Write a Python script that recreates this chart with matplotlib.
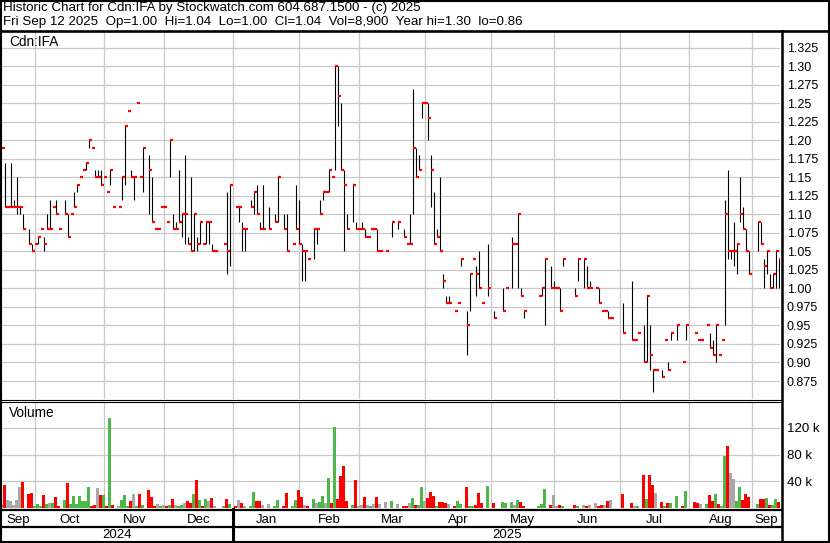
import numpy as np
import matplotlib
matplotlib.use("Agg")
import matplotlib.pyplot as plt
from matplotlib.patches import Rectangle
from matplotlib.transforms import blended_transform_factory

plt.rcParams['font.family'] = ['Liberation Sans', 'DejaVu Sans']

# trading day index (0 = first day shown, 259 = Fri Sep 12 2025)
days = [0, 1, 2, 3, 4, 5, 6, 7, 9, 10,
        11, 12, 13, 14, 15, 16, 17, 18, 19, 21,
        22, 23, 24, 25, 26, 27, 28, 29, 30, 31,
        32, 33, 34, 35, 36, 37, 39, 40, 41, 42,
        43, 44, 45, 46, 47, 49, 50, 51, 52, 53,
        54, 55, 56, 57, 58, 59, 60, 61, 62, 63,
        64, 65, 66, 67, 68, 69, 70, 71, 74, 75,
        76, 78, 79, 80, 81, 83, 84, 85, 86, 87,
        89, 91, 92, 94, 95, 97, 98, 99, 100, 101,
        102, 104, 105, 106, 107, 108, 109, 110, 111, 112,
        113, 114, 115, 117, 118, 119, 120, 121, 122, 123,
        124, 125, 126, 128, 130, 132, 134, 135, 136, 137,
        138, 139, 140, 141, 142, 143, 144, 145, 146, 147,
        148, 149, 151, 152, 153, 155, 156, 157, 158, 159,
        160, 162, 164, 167, 168, 170, 171, 172, 173, 174,
        179, 180, 181, 183, 184, 185, 186, 187, 191, 192,
        194, 195, 196, 198, 199, 200, 201, 202, 203, 207,
        210, 211, 212, 214, 215, 216, 217, 218, 220, 221,
        222, 223, 225, 227, 228, 231, 232, 233, 235, 236,
        237, 238, 239, 240, 241, 242, 243, 244, 245, 246,
        247, 248, 249, 252, 253, 254, 255, 256, 257, 258,
        259]

highs = [1.19, 1.17, 1.11, 1.17, 1.12, 1.15, 1.11, 1.10, 1.08, 1.06,
         1.06, 1.07, 1.08, 1.07, 1.10, 1.12, 1.11, 1.12, 1.08, 1.12,
         1.10, 1.10, 1.13, 1.14, 1.15, 1.16, 1.17, 1.20, 1.19, 1.16,
         1.16, 1.16, 1.15, 1.13, 1.16, 1.11, 1.11, 1.15, 1.22, 1.24,
         1.16, 1.15, 1.25, 1.15, 1.19, 1.18, 1.15, 1.08, 1.08, 1.11,
         1.11, 1.09, 1.20, 1.10, 1.09, 1.16, 1.10, 1.18, 1.07, 1.15,
         1.10, 1.07, 1.09, 1.06, 1.09, 1.09, 1.06, 1.05, 1.06, 1.13,
         1.14, 1.11, 1.11, 1.09, 1.08, 1.12, 1.13, 1.14, 1.09, 1.14,
         1.11, 1.10, 1.15, 1.10, 1.10, 1.06, 1.14, 1.12, 1.06, 1.05,
         1.04, 1.08, 1.08, 1.12, 1.13, 1.13, 1.16, 1.15, 1.30, 1.30,
         1.25, 1.16, 1.10, 1.14, 1.09, 1.08, 1.09, 1.08, 1.07, 1.08,
         1.08, 1.08, 1.05, 1.05, 1.09, 1.09, 1.08, 1.06, 1.10, 1.27,
         1.19, 1.18, 1.25, 1.25, 1.25, 1.18, 1.13, 1.08, 1.15, 1.02,
         0.99, 0.99, 0.97, 0.98, 1.04, 0.97, 1.02, 1.04, 1.03, 1.05,
         0.98, 1.06, 0.97, 1.00, 1.00, 1.07, 1.06, 1.10, 1.00, 0.97,
         0.99, 1.00, 1.04, 1.03, 1.01, 1.00, 1.00, 1.04, 1.00, 1.04,
         1.04, 1.03, 1.01, 1.00, 1.00, 0.97, 0.97, 0.97, 0.96, 0.98,
         1.01, 0.93, 0.94, 0.95, 0.99, 0.95, 0.89, 0.89, 0.89, 0.93,
         0.90, 0.94, 0.95, 0.90, 0.95, 0.94, 0.93, 0.93, 0.95, 0.94,
         0.93, 0.95, 0.91, 0.93, 1.12, 1.16, 1.05, 1.09, 1.06, 1.15,
         1.11, 1.08, 1.05, 1.09, 1.09, 1.04, 1.05, 1.02, 1.02, 1.05,
         1.04]

lows = [1.19, 1.11, 1.11, 1.11, 1.11, 1.10, 1.10, 1.08, 1.06, 1.05,
        1.06, 1.06, 1.08, 1.05, 1.08, 1.08, 1.11, 1.10, 1.08, 1.10,
        1.07, 1.10, 1.11, 1.13, 1.15, 1.16, 1.16, 1.19, 1.19, 1.15,
        1.15, 1.14, 1.15, 1.13, 1.14, 1.11, 1.11, 1.12, 1.14, 1.24,
        1.15, 1.12, 1.25, 1.15, 1.13, 1.10, 1.09, 1.08, 1.08, 1.11,
        1.11, 1.09, 1.15, 1.08, 1.08, 1.09, 1.07, 1.06, 1.06, 1.05,
        1.05, 1.05, 1.06, 1.06, 1.06, 1.06, 1.05, 1.05, 1.06, 1.02,
        1.03, 1.11, 1.09, 1.05, 1.05, 1.11, 1.10, 1.10, 1.08, 1.08,
        1.08, 1.09, 1.09, 1.08, 1.05, 1.06, 1.08, 1.06, 1.01, 1.01,
        1.04, 1.04, 1.06, 1.10, 1.12, 1.13, 1.13, 1.15, 1.16, 1.22,
        1.16, 1.05, 1.08, 1.09, 1.08, 1.08, 1.08, 1.07, 1.07, 1.08,
        1.08, 1.05, 1.05, 1.05, 1.07, 1.08, 1.07, 1.06, 1.06, 1.10,
        1.15, 1.16, 1.23, 1.25, 1.20, 1.11, 1.06, 1.07, 1.05, 1.00,
        0.98, 0.98, 0.97, 0.98, 1.03, 0.91, 0.97, 1.04, 0.99, 1.00,
        0.98, 0.99, 0.96, 0.97, 1.00, 1.00, 1.06, 1.00, 0.99, 0.96,
        0.99, 0.99, 0.95, 1.00, 1.00, 1.00, 0.97, 1.03, 0.99, 1.01,
        1.00, 1.00, 1.00, 1.00, 0.98, 0.97, 0.97, 0.96, 0.96, 0.94,
        0.93, 0.93, 0.94, 0.90, 0.90, 0.89, 0.86, 0.89, 0.88, 0.93,
        0.89, 0.93, 0.93, 0.90, 0.93, 0.94, 0.93, 0.93, 0.95, 0.92,
        0.91, 0.90, 0.91, 0.93, 0.95, 1.04, 1.04, 1.03, 1.02, 1.09,
        1.08, 1.05, 1.02, 1.05, 1.06, 1.00, 1.02, 1.00, 1.00, 1.00,
        1.00]

closes = [1.19, 1.11, 1.11, 1.11, 1.11, 1.11, 1.11, 1.08, 1.06, 1.05,
          1.06, 1.07, 1.08, 1.06, 1.08, 1.08, 1.11, 1.10, 1.08, 1.10,
          1.07, 1.10, 1.11, 1.14, 1.15, 1.16, 1.17, 1.20, 1.19, 1.15,
          1.15, 1.14, 1.15, 1.13, 1.16, 1.11, 1.11, 1.15, 1.22, 1.24,
          1.15, 1.15, 1.25, 1.15, 1.19, 1.16, 1.09, 1.08, 1.08, 1.11,
          1.11, 1.09, 1.20, 1.08, 1.08, 1.09, 1.10, 1.10, 1.06, 1.05,
          1.10, 1.06, 1.09, 1.06, 1.09, 1.09, 1.05, 1.05, 1.06, 1.05,
          1.14, 1.11, 1.11, 1.08, 1.08, 1.11, 1.13, 1.10, 1.08, 1.08,
          1.08, 1.09, 1.15, 1.08, 1.05, 1.06, 1.08, 1.06, 1.05, 1.05,
          1.04, 1.08, 1.08, 1.10, 1.13, 1.13, 1.16, 1.15, 1.30, 1.26,
          1.16, 1.14, 1.08, 1.14, 1.08, 1.08, 1.08, 1.07, 1.07, 1.08,
          1.08, 1.05, 1.05, 1.05, 1.09, 1.09, 1.07, 1.06, 1.06, 1.19,
          1.15, 1.16, 1.25, 1.25, 1.23, 1.16, 1.06, 1.07, 1.05, 1.01,
          0.98, 0.98, 0.97, 0.98, 1.04, 0.95, 1.02, 1.04, 1.02, 1.00,
          0.98, 1.00, 0.96, 0.97, 1.00, 1.06, 1.06, 1.10, 0.99, 0.97,
          0.99, 1.00, 1.04, 1.00, 1.00, 1.00, 0.97, 1.04, 0.99, 1.04,
          1.04, 1.00, 1.00, 1.00, 0.98, 0.97, 0.97, 0.96, 0.96, 0.94,
          0.93, 0.93, 0.94, 0.90, 0.99, 0.91, 0.89, 0.89, 0.88, 0.93,
          0.89, 0.94, 0.95, 0.90, 0.95, 0.94, 0.93, 0.93, 0.95, 0.92,
          0.91, 0.95, 0.91, 0.93, 1.10, 1.05, 1.05, 1.05, 1.06, 1.10,
          1.08, 1.05, 1.02, 1.09, 1.06, 1.03, 1.05, 1.00, 1.02, 1.05,
          1.04]

volumes = [6400, 34600, 11400, 9900, 4900, 11400, 32000, 39500, 21000, 22700,
           3000, 6400, 3000, 19800, 6400, 7900, 7900, 17000, 3000, 12300,
           37500, 6400, 18300, 6400, 18300, 10900, 10900, 32000, 2500, 4900,
           30000, 19800, 19800, 2500, 135000, 4000, 3000, 12300, 19800, 3000,
           9900, 21200, 2500, 21200, 4000, 27200, 15800, 2500, 6400, 2500,
           4900, 2500, 4000, 13800, 4000, 2500, 4900, 7900, 10900, 7900,
           21200, 42000, 12300, 2500, 13800, 10900, 15300, 2500, 3000, 13800,
           6400, 2500, 12300, 7900, 2500, 2500, 24200, 10900, 10900, 4000,
           6400, 3000, 12300, 3000, 22700, 3000, 12300, 27200, 16800, 4900,
           2500, 13800, 7900, 9400, 18300, 7900, 45000, 7900, 122000, 13800,
           48000, 62700, 10900, 4900, 42000, 2500, 4900, 16800, 4900, 2500,
           6400, 16800, 6400, 9400, 10900, 6400, 3000, 2500, 7900, 15300,
           4900, 4900, 31600, 9900, 15300, 24200, 18300, 3500, 9400, 9400,
           7900, 6400, 2500, 10900, 6400, 31600, 2500, 3500, 4900, 22700,
           7900, 33000, 7900, 9400, 7900, 9400, 4900, 12300, 9400, 3500,
           2500, 6400, 28600, 4900, 19800, 2500, 4900, 2500, 4900, 2500,
           4000, 2500, 4900, 7900, 2500, 4000, 4000, 10900, 12300, 21200,
           7900, 2500, 3500, 49400, 13800, 49400, 34600, 22700, 9400, 3500,
           7900, 7900, 18300, 2500, 25700, 9400, 6900, 6400, 6400, 19800,
           10900, 21200, 6400, 3500, 77500, 92300, 52300, 43500, 10900, 31600,
           12300, 21200, 16800, 6400, 13800, 13800, 15300, 4900, 4900, 13800,
           8900]

# first trading day of each month (day index)
month_starts = [11, 34, 54, 77, 99, 119, 141, 163, 184, 206, 229, 250]
month_names = ['Sep', 'Oct', 'Nov', 'Dec', 'Jan', 'Feb', 'Mar', 'Apr',
               'May', 'Jun', 'Jul', 'Aug', 'Sep']
years = ['2024', '2025']
price_ticks = [0.875, 0.90, 0.925, 0.95, 0.975, 1.00, 1.025, 1.05, 1.075,
               1.10, 1.125, 1.15, 1.175, 1.20, 1.225, 1.25, 1.275, 1.30, 1.325]
vol_ticks = [40000, 80000, 120000]

header1 = 'Historic Chart for Cdn:IFA by Stockwatch.com 604.687.1500 - (c) 2025'
header2 = ('Fri Sep 12 2025  Op=1.00  Hi=1.04  Lo=1.00  Cl=1.04  '
           'Vol=8,900  Year hi=1.30  lo=0.86')

d = np.array(days, dtype=float)
hi = np.array(highs)
lo = np.array(lows)
cl = np.array(closes)
vol = np.array(volumes)

W, H = 830, 543
def frac(l, t, r, b):
  return [l / W, 1 - b / H, (r - l) / W, (b - t) / H]

fig = plt.figure(figsize=(W / 100, H / 100), dpi=100)
ax_p = fig.add_axes(frac(1, 32, 780, 399))
ax_v = fig.add_axes(frac(1, 403, 780, 508))

x_lo, x_hi = -0.4, 259.3
grid_col = '#c8c8c8'

# price panel
rng = hi > lo
ax_p.vlines(d[rng], lo[rng], hi[rng], colors='black', lw=0.8, zorder=3)
ax_p.hlines(cl, d, d + 0.85, colors='#ff0000', lw=1.6, zorder=4,
            capstyle='butt')
ax_p.set_xlim(x_lo, x_hi)
ax_p.set_ylim(0.8507, 1.3464)
ax_p.set_xticks(month_starts)
ax_p.set_yticks(price_ticks)
ax_p.set_yticklabels(['%.2f' % t if round(t * 100, 6) % 1 == 0 else '%.3f' % t
                      for t in price_ticks])
ax_p.yaxis.tick_right()
ax_p.tick_params(axis='x', length=0, labelbottom=False)
ax_p.tick_params(axis='y', length=0, pad=5, labelsize=9)
ax_p.grid(color=grid_col, lw=0.9)
ax_p.set_axisbelow(True)

# volume panel
chg = np.round(np.diff(cl, prepend=cl[0]), 4)
vcolors = np.where(chg > 0, '#4db848', np.where(chg < 0, '#ff0000', '#a8a8a8'))
ax_v.bar(d - 0.2, vol, width=0.75, color=vcolors, linewidth=0, zorder=3)
ax_v.set_xlim(x_lo, x_hi)
ax_v.set_ylim(0, 157500)
ax_v.set_xticks(month_starts)
ax_v.set_xticklabels([])
edges = [x_lo] + month_starts + [x_hi]
centers = [(a + b) / 2 for a, b in zip(edges[:-1], edges[1:])]
ax_v.set_xticks(centers, minor=True)
ax_v.set_xticklabels(month_names, minor=True)
ax_v.set_yticks(vol_ticks)
ax_v.set_yticklabels(['%d k' % (v // 1000) for v in vol_ticks])
ax_v.yaxis.tick_right()
ax_v.tick_params(axis='x', which='both', length=0, pad=4, labelsize=9.5)
ax_v.tick_params(axis='y', length=0, pad=5, labelsize=9.5)
ax_v.grid(which='major', color=grid_col, lw=0.9)
ax_v.set_axisbelow(True)

for ax in (ax_p, ax_v):
  for s in ax.spines.values():
    s.set_visible(False)

# year row
jan = month_starts[3]
yr_tr = blended_transform_factory(ax_v.transData, fig.transFigure)
ax_v.text((x_lo + jan) / 2, 1 - 535 / H, years[0], transform=yr_tr,
          ha='center', va='center', fontsize=9.5)
ax_v.text((jan + x_hi) / 2, 1 - 535 / H, years[1], transform=yr_tr,
          ha='center', va='center', fontsize=9.5)
ax_v.plot([jan, jan], [1 - 509 / H, 1 - 542 / H], transform=yr_tr,
          color='black', lw=2.2, clip_on=False)

# frame lines and header in pixel space
ax_bg = fig.add_axes([0, 0, 1, 1], zorder=5)
ax_bg.set_xlim(0, W)
ax_bg.set_ylim(H, 0)
ax_bg.axis('off')
ax_bg.patch.set_alpha(0)
ax_bg.add_patch(Rectangle((0.7, 0.7), W - 1.4, H - 1.4, fill=False,
                          ec='black', lw=1.5))
ax_bg.plot([0, W], [30.5, 30.5], color='black', lw=1.9)
ax_bg.plot([0, 781], [400.2, 400.2], color='black', lw=0.8)
ax_bg.plot([0, 781], [402.3, 402.3], color='black', lw=0.8)
ax_bg.plot([0, 781], [510, 510], color='black', lw=1.6)
ax_bg.plot([0, 781], [527, 527], color='black', lw=1.6)
ax_bg.plot([782, 782], [31, H], color='black', lw=1.8)

ax_bg.text(3, 8, header1, fontsize=9.6, va='center')
ax_bg.text(3, 22.5, header2, fontsize=9.6, va='center')
ax_bg.text(9, 42, 'Cdn:IFA', fontsize=9.8, va='center')
ax_bg.text(9, 413, 'Volume', fontsize=9.8, va='center')

fig.savefig('out.png', dpi=100)
